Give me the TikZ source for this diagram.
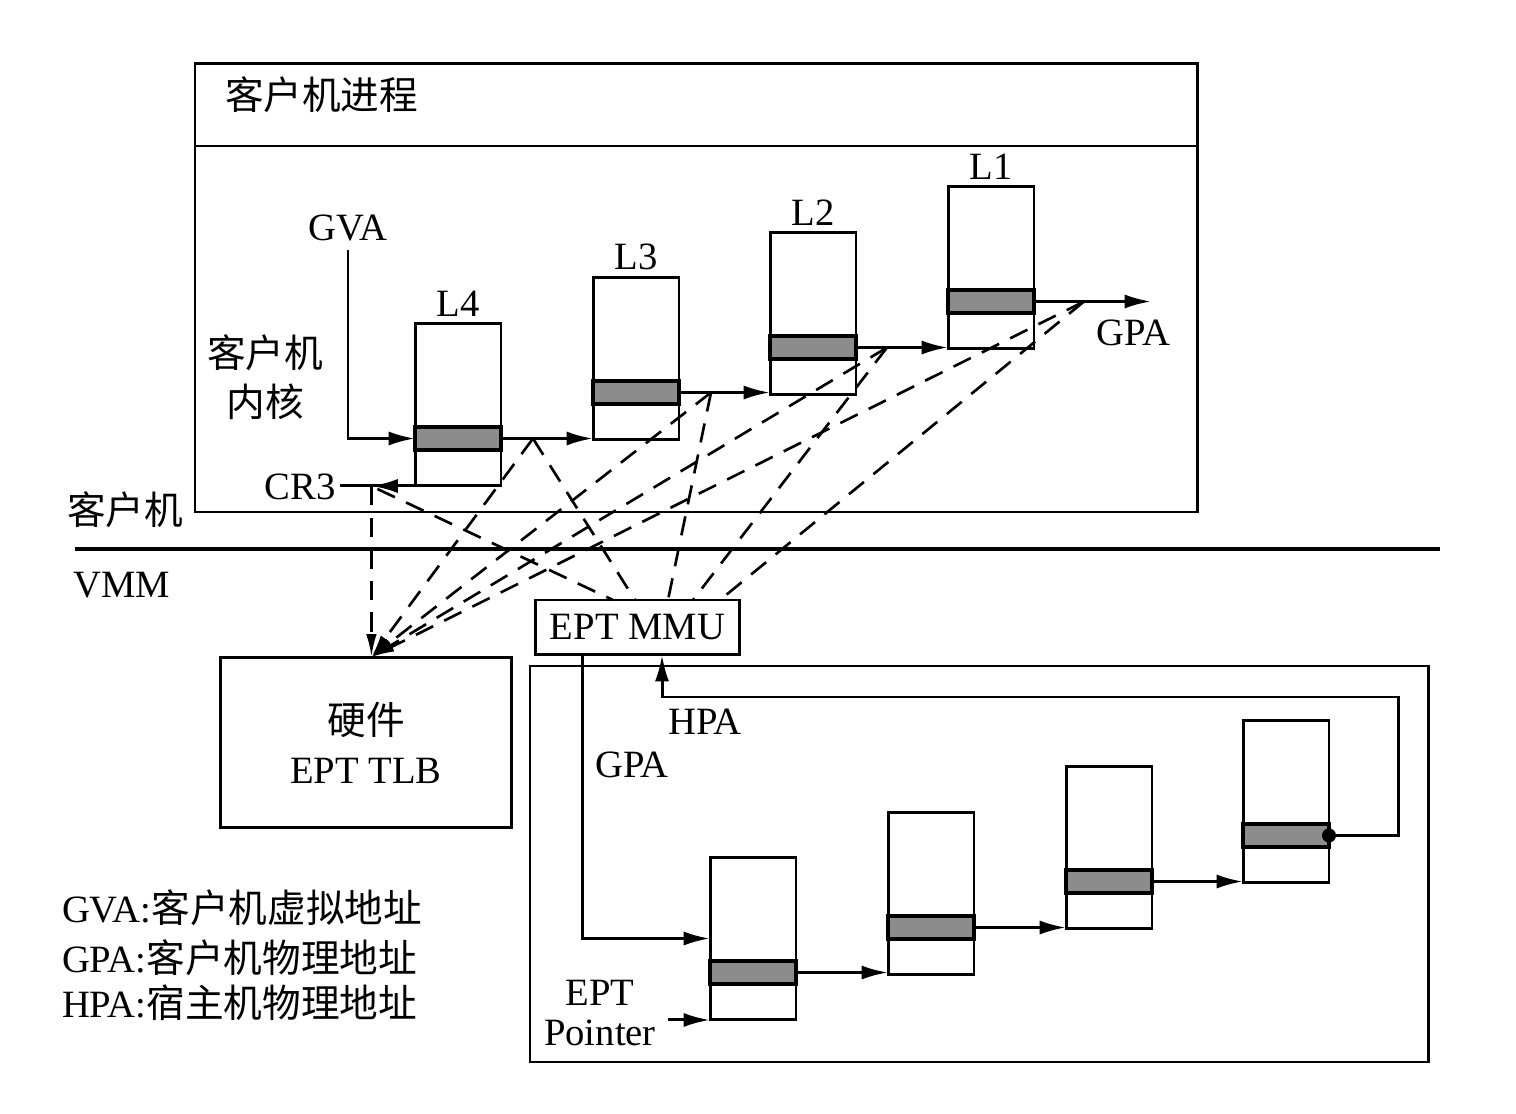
\documentclass[tikz,border=0pt]{standalone}
\usepackage{fontspec}
\setmainfont{Liberation Serif}
\newfontfamily\cjk{Noto Sans CJK SC}
\usetikzlibrary{arrows.meta,calc}
\newcommand\ptab[3]{%
  \node[tabbox] (#1) at (#2+43,#3+81.5) {};
  \draw[band] ($(#1.north west)+(0,104)$) rectangle ($(#1.north east)+(0,127)$);
  \coordinate (#1-bw) at ($(#1.north west)+(0,115.5)$);
  \coordinate (#1-be) at ($(#1.north east)+(0,115.5)$);
}
\begin{document}
\begin{tikzpicture}[x=0.02cm,y=-0.02cm,
  every node/.style={font=\fontsize{22}{28}\selectfont, inner sep=0pt, outer sep=0pt},
  cjkf/.style={font=\fontsize{22}{28}\selectfont\cjk},
  box/.style={draw, line width=1.7pt},
  tabbox/.style={draw, line width=1.7pt, minimum width=1.72cm, minimum height=3.26cm},
  band/.style={draw, line width=2.2pt, fill=black!45},
  arr/.style={line width=1.7pt, -{Latex[length=15pt,width=8pt]}},
  ln/.style={line width=1.7pt},
  dsh/.style={line width=1.5pt, dash pattern=on 11pt off 7pt},
  dsharr/.style={dsh, -{Latex[length=13pt,width=6pt]}}]
\fill[white] (0,0) rectangle (1516,1114);
\useasboundingbox (0,0) rectangle (1516,1114);

% guest container
\draw[ln] (195,64) rectangle (1197,512);
\draw[ln] (195,146) -- (1197,146);
\node[cjkf, anchor=west] (title) at (225,95) {客户机进程};

% guest page tables
\ptab{L4}{415}{323}
\ptab{L3}{593}{277}
\ptab{L2}{770}{232}
\ptab{L1}{948}{186}
\node[anchor=south] (lL4) at ($(L4.north)+(0,-7)$) {L4};
\node[anchor=south] (lL3) at ($(L3.north)+(0,-7)$) {L3};
\node[anchor=south] (lL2) at ($(L2.north)+(0,-7)$) {L2};
\node[anchor=south] (lL1) at ($(L1.north)+(0,-7)$) {L1};

\node (gva) at (348,228) {GVA};
\node[cjkf, align=center] (kern) at (265,377) {客户机\\内核};
\draw[arr, shorten <=5pt] (gva.south) |- (L4-bw);
\draw[arr] (L4-be) -- (L4-be -| L3.west);
\draw[arr] (L3-be) -- (L3-be -| L2.west);
\draw[arr] (L2-be) -- (L2-be -| L1.west);
\coordinate (gpaend) at ($(L1-be)+(117,0)$);
\draw[arr] (L1-be) -- (gpaend);
\node (gpa) at (1133,333) {GPA};

\node (cr3) at (300,487) {CR3};
\coordinate (cr3p) at ($(cr3.east |- L4.south west)+(36,0)$);
\draw[ln] ($(cr3.east |- L4.south west)+(5,0)$) -- (L4.south west);
\draw[arr] (L4.south west) -- (cr3p);

\node[cjkf] (guestlbl) at (125,510) {客户机};
\draw[line width=2.8pt] (75,549) -- (1440,549);
\node (vmm) at (122,585) {VMM};

% VMM side
\node[box, minimum width=4.1cm, minimum height=1.1cm] (MMU) at (637.5,627.5) {EPT MMU};
\node[box, minimum width=5.84cm, minimum height=3.42cm, align=center] (TLB) at (366,742.5) {{\cjk 硬件}\\EPT TLB};

% dashed references
\coordinate (p1) at ($(L4-be)+(32,0)$);
\coordinate (p2) at ($(L3-be)+(32,0)$);
\coordinate (p3) at ($(L2-be)+(31,0)$);
\coordinate (p4) at ($(L1-be)+(50,0)$);
\coordinate (tlbin) at (cr3p |- TLB.north);
\draw[dsharr] (cr3p) -- (tlbin);
\draw[dsharr] (p1) -- (tlbin);
\draw[dsharr] (p2) -- (tlbin);
\draw[dsharr] (p3) -- (tlbin);
\draw[dsharr] (p4) -- (tlbin);
\draw[dsh] ($(cr3p)+(6,3)$) -- ($(MMU.north)+(-24.5,0)$);
\draw[dsh] (p1) -- ($(MMU.north)+(-2.5,0)$);
\draw[dsh] (p2) -- ($(MMU.north)+(30.5,0)$);
\draw[dsh] (p3) -- ($(MMU.north)+(55.5,0)$);
\draw[dsh] (p4) -- ($(MMU.north)+(82.5,0)$);

% host container
\draw[ln] (530,666) rectangle (1428,1062);
\ptab{T1}{710}{857}
\ptab{T2}{888}{812}
\ptab{T3}{1066}{766}
\ptab{T4}{1243}{720}
\draw[arr] (T1-be) -- (T1-be -| T2.west);
\draw[arr] (T2-be) -- (T2-be -| T3.west);
\draw[arr] (T3-be) -- (T3-be -| T4.west);

\coordinate (mg) at ($(MMU.south west)+(47,0)$);
\coordinate (mh) at ($(MMU.south west)+(127,0)$);
\draw[arr] (mg) |- (T1.west);
\draw[arr] (T4-be) -| (1398,697) -| (mh);
\fill (T4-be) circle[radius=4pt];
\node (gpa2) at (632,765) {GPA};
\node (hpa) at (705,722) {HPA};
\node[align=center, font=\fontsize{22}{23}\selectfont] (eptp) at (600,1013) {EPT\\Pointer};
\draw[arr] ($(T1.south west)+(-42,0)$) -- (T1.south west);

% legend
\node[anchor=west] (lg1) at (62,908) {GVA:{\cjk 客户机虚拟地址}};
\node[anchor=west] (lg2) at (62,958) {GPA:{\cjk 客户机物理地址}};
\node[anchor=west] (lg3) at (62,1003) {HPA:{\cjk 宿主机物理地址}};
\end{tikzpicture}
\end{document}
